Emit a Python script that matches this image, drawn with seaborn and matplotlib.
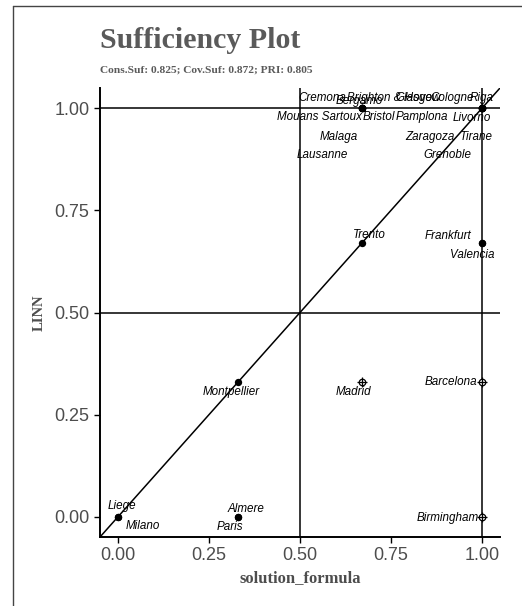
import matplotlib
matplotlib.use("Agg")
import matplotlib.pyplot as plt
import seaborn as sns
import pandas as pd
import numpy as np
from matplotlib.lines import Line2D

# ---- data ----
cases = ["Liege", "Milano", "Almere", "Paris", "Birmingham", "Montpellier", "Madrid",
         "Barcelona", "Trento", "Frankfurt", "Valencia",
         "Cremona", "Bergamo", "Brighton & Hove", "Mouans Sartoux", "Bristol", "Malaga", "Lausanne",
         "Glasgow", "Cologne", "Riga", "Pamplona", "Livorno", "Zaragoza", "Tirane", "Grenoble"]
solution_formula = [0.0, 0.0, 0.33, 0.33, 1.0, 0.33, 0.67,
                    1.0, 0.67, 1.0, 1.0,
                    0.67, 0.67, 0.67, 0.67, 0.67, 0.67, 0.67,
                    1.0, 1.0, 1.0, 1.0, 1.0, 1.0, 1.0, 1.0]
linn = [0.0, 0.0, 0.0, 0.0, 0.0, 0.33, 0.33,
        0.33, 0.67, 0.67, 0.67,
        1.0, 1.0, 1.0, 1.0, 1.0, 1.0, 1.0,
        1.0, 1.0, 1.0, 1.0, 1.0, 1.0, 1.0, 1.0]
case_type = ["deviant" if (x > 0.5 and y < 0.5) else "typical"
             for x, y in zip(solution_formula, linn)]
title = "Sufficiency Plot"
subtitle = "Cons.Suf: 0.825; Cov.Suf: 0.872; PRI: 0.805"
ticks = [0.0, 0.25, 0.5, 0.75, 1.0]
tick_labels = ["0.00", "0.25", "0.50", "0.75", "1.00"]

# label offsets (pixels) relative to points - layout only
label_offsets = {
    "Liege": (4, 11), "Milano": (25, -9), "Almere": (8, 8), "Paris": (-8, -10),
    "Birmingham": (-34, -1), "Montpellier": (-7, -10), "Madrid": (-8, -10),
    "Barcelona": (-31, 0), "Trento": (8, 8), "Frankfurt": (-34, 7), "Valencia": (-10, -12),
    "Cremona": (-40, 10), "Bergamo": (-3, 7), "Brighton & Hove": (28, 10),
    "Mouans Sartoux": (-42, -9), "Bristol": (17, -9), "Malaga": (-23, -29), "Lausanne": (-39, -47),
    "Glasgow": (-64, 10), "Cologne": (-30, 10), "Riga": (0, 10), "Pamplona": (-60, -9),
    "Livorno": (-10, -10), "Zaragoza": (-52, -29), "Tirane": (-5, -29), "Grenoble": (-34, -47),
}

df = pd.DataFrame({"case": cases, "solution_formula": solution_formula,
                   "LINN": linn, "type": case_type})

sns.set_theme(style="ticks")
plt.rcParams["font.family"] = ["Liberation Sans", "DejaVu Sans"]

fig = plt.figure(figsize=(5.22, 6.06), dpi=100)
W, H = 522, 606
ax = fig.add_axes([100 / W, 1 - 537 / H, 400 / W, 449 / H])

# reference lines
for v in [0.5, 1.0]:
    ax.axvline(v, color="black", lw=1.1, zorder=1)
    ax.axhline(v, color="black", lw=1.1, zorder=1)
ax.plot([-0.05, 1.05], [-0.05, 1.05], color="black", lw=1.1, zorder=1)

typ = df[df["type"] == "typical"]
dev = df[df["type"] == "deviant"]
sns.scatterplot(data=typ, x="solution_formula", y="LINN", ax=ax, color="black",
                s=28, edgecolor="black", linewidth=0, zorder=3, legend=False)
sns.scatterplot(data=dev, x="solution_formula", y="LINN", ax=ax, marker="o",
                s=22, facecolor="white", edgecolor="black", linewidth=0.9, zorder=3, legend=False)
sns.scatterplot(data=dev, x="solution_formula", y="LINN", ax=ax, marker="+",
                s=45, color="black", linewidth=0.9, zorder=4, legend=False)

for c, x, y in zip(cases, solution_formula, linn):
    dx, dy = label_offsets[c]
    ax.annotate(c, (x, y), xytext=(dx, dy), textcoords="offset pixels",
                ha="center", va="center", fontsize=8.4, style="italic",
                color="black", zorder=5)

ax.set_xlim(-0.05, 1.05)
ax.set_ylim(-0.05, 1.05)
ax.set_xticks(ticks)
ax.set_xticklabels(tick_labels)
ax.set_yticks(ticks)
ax.set_yticklabels(tick_labels)
ax.tick_params(axis="both", labelsize=13, labelcolor="#4d4d4d", color="black",
               length=4, width=1, direction="out")
for sp in ["top", "right"]:
    ax.spines[sp].set_visible(False)
for sp in ["left", "bottom"]:
    ax.spines[sp].set_linewidth(1.4)
    ax.spines[sp].set_color("black")

ax.set_xlabel("solution_formula", fontsize=12, fontweight="bold", color="#4d4d4d",
              family="Liberation Serif", labelpad=4)
ax.set_ylabel("LINN", fontsize=10.5, fontweight="bold", color="#4d4d4d",
              family="Liberation Serif", labelpad=6)

fig.text(100 / W, 1 - 40 / H, title, fontsize=21.5, fontweight="bold", color="#5a5a5a",
         family="Liberation Serif", ha="left", va="center")
fig.text(100 / W, 1 - 70 / H, subtitle, fontsize=8.2, fontweight="bold", color="#5a5a5a",
         family="Liberation Serif", ha="left", va="center")

# outer frame fragments
fig.add_artist(Line2D([13 / W, 13 / W], [0, 1 - 5.5 / H], transform=fig.transFigure,
                      color="#444444", lw=1))
fig.add_artist(Line2D([13 / W, 1], [1 - 5.5 / H, 1 - 5.5 / H], transform=fig.transFigure,
                      color="#444444", lw=1))

fig.savefig("out.png", dpi=100)
